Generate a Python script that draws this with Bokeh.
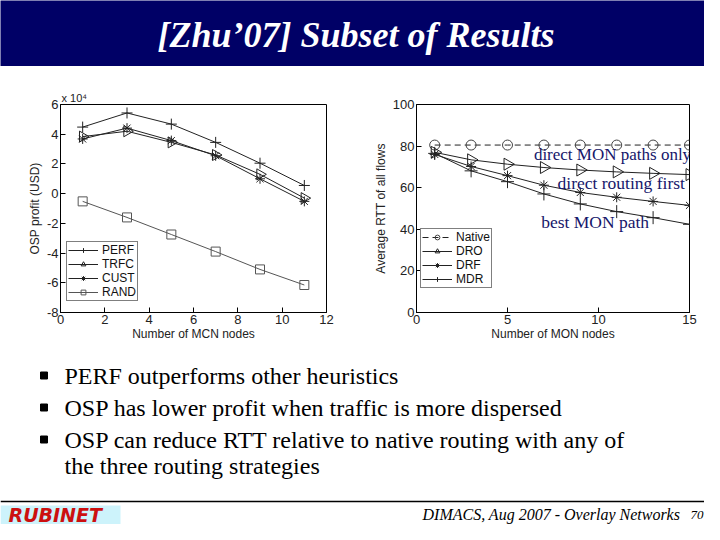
import numpy as np
from bokeh.plotting import figure
from bokeh.layouts import column, row
from bokeh.models import Range1d, FixedTicker, Label
from bokeh.core.properties import value
from bokeh.embed import file_html
from bokeh.resources import INLINE

# ---------------- data ----------------
title_text = "[Zhu\u201907] Subset of  Results"

mcn_nodes = [1, 3, 5, 7, 9, 11]
perf = [44800, 54300, 46800, 34500, 20500, 5500]
trfc = [38400, 42000, 34500, 26000, 13000, -3000]
cust = [36800, 44100, 35700, 25500, 10000, -5200]
rand = [-5200, -16000, -27500, -39000, -51000, -61500]
left_yticks = [-80000, -60000, -40000, -20000, 0, 20000, 40000, 60000]
left_ytick_labels = ["-8", "-6", "-4", "-2", "0", "2", "4", "6"]
left_xticks = [0, 2, 4, 6, 8, 10, 12]

mon_nodes = [1, 3, 5, 7, 9, 11, 13, 15]
native = [80.5, 80.5, 80.5, 80.5, 80.5, 80.5, 80.5, 80.5]
dro = [77.0, 73.4, 71.3, 69.7, 68.5, 67.6, 66.9, 66.3]
drf = [76.0, 70.2, 65.8, 61.2, 57.7, 55.4, 53.4, 51.5]
mdr = [76.5, 68.1, 62.9, 57.0, 52.2, 48.5, 45.6, 42.4]
right_yticks = [0, 20, 40, 60, 80, 100]
right_xticks = [0, 5, 10, 15]

bullets = [
    "PERF outperforms other heuristics",
    "OSP has lower profit when traffic is more dispersed",
    "OSP can reduce RTT relative to native routing with any of",
    "the three routing strategies",
]
footer_text = "DIMACS, Aug 2007 - Overlay Networks"
page_number = "70"
logo_text = "RUBINET"

SANS = "Liberation Sans"
SERIF = "Liberation Serif"
NAVY = "#000066"


def blank(p):
    p.axis.visible = False
    p.grid.visible = False
    p.outline_line_color = None
    p.background_fill_color = None
    p.border_fill_color = None


def style_chart(p, xlabel, ylabel):
    p.grid.visible = False
    p.outline_line_color = "black"
    p.outline_line_width = 1
    for ax in p.axis:
        ax.axis_line_color = "black"
        ax.major_tick_in = 5
        ax.major_tick_out = 0
        ax.minor_tick_line_color = None
        ax.major_label_text_font = SANS
        ax.major_label_text_font_size = "13px"
        ax.major_label_text_color = "#222222"
        ax.major_label_standoff = 2
        ax.axis_label_text_font = SANS
        ax.axis_label_text_font_size = "12px"
        ax.axis_label_text_font_style = "normal"
        ax.axis_label_text_color = "#222222"
        ax.axis_label_standoff = 2
    p.xaxis.axis_label = xlabel
    p.yaxis.axis_label = ylabel
    p.xaxis.axis_label_standoff = 0


def style_legend(p, loc):
    lg = p.legend[0]
    lg.location = loc
    lg.border_line_color = "black"
    lg.border_line_width = 1
    lg.background_fill_color = "white"
    lg.background_fill_alpha = 1
    lg.label_text_font = SANS
    lg.label_text_font_size = "12px"
    lg.label_text_color = "#111111"
    lg.glyph_width = 30
    lg.glyph_height = 12
    lg.label_height = 12
    lg.label_standoff = 4
    lg.spacing = 0
    lg.padding = 1
    lg.margin = 0


# ---------------- title bar ----------------
title = figure(width=704, height=66, x_range=Range1d(0, 704), y_range=Range1d(0, 66),
               output_backend="svg", toolbar_location=None, min_border=0)
blank(title)
title.background_fill_color = NAVY
title.border_fill_color = NAVY
title.text(x=[360], y=[32], text=[title_text], text_font=value(SERIF),
           text_font_style="bold italic", text_font_size="36px", text_color="white",
           text_align="center", text_baseline="middle")

# ---------------- left chart ----------------
left = figure(width=370, height=289, x_range=Range1d(0, 12), y_range=Range1d(-80000, 60000),
              output_backend="svg", toolbar_location=None,
              min_border_left=60, min_border_right=44, min_border_top=38, min_border_bottom=43)
style_chart(left, "Number of MCN nodes", "OSP profit (USD)")
left.xaxis.ticker = FixedTicker(ticks=left_xticks)
left.yaxis.ticker = FixedTicker(ticks=left_yticks)
left.yaxis.major_label_overrides = {t: s for t, s in zip(left_yticks, left_ytick_labels)}
left.title.text = "x 10\u2074"
left.title.align = "left"
left.title.text_font = SANS
left.title.text_font_size = "11px"
left.title.text_font_style = "normal"
left.title.text_color = "#222222"
left.title.standoff = 1
left.title.offset = 1

lc = "#222222"
left.line(mcn_nodes, perf, line_color=lc, line_width=1, legend_label="PERF")
left.scatter(mcn_nodes, perf, marker="cross", size=11, line_color=lc, fill_color=None, legend_label="PERF")
left.line(mcn_nodes, trfc, line_color=lc, line_width=1, legend_label="TRFC")
left.scatter(mcn_nodes, trfc, marker="triangle", angle=-np.pi / 2, size=11, line_color=lc,
             fill_color=None, legend_label="TRFC")
left.line(mcn_nodes, cust, line_color=lc, line_width=1, legend_label="CUST")
left.scatter(mcn_nodes, cust, marker="asterisk", size=10, line_color=lc, fill_color=None, legend_label="CUST")
left.line(mcn_nodes, rand, line_color="#555555", line_width=1, legend_label="RAND")
left.scatter(mcn_nodes, rand, marker="square", size=9, line_color="#555555", fill_color=None,
             legend_label="RAND")
style_legend(left, (6, 11))

# ---------------- right chart ----------------
right = figure(width=334, height=289, x_range=Range1d(0, 15), y_range=Range1d(0, 100),
               output_backend="svg", toolbar_location=None,
               min_border_left=42, min_border_right=15, min_border_top=34, min_border_bottom=37)
style_chart(right, "Number of MON nodes", "Average RTT of all flows")
right.xaxis.ticker = FixedTicker(ticks=right_xticks)
right.yaxis.ticker = FixedTicker(ticks=right_yticks)

right.line(mon_nodes, native, line_color=lc, line_dash="6 4", line_width=1, legend_label="Native")
right.scatter(mon_nodes, native, marker="circle", size=10, line_color="#444444", fill_color=None,
              legend_label="Native")
right.line(mon_nodes, dro, line_color=lc, line_width=1, legend_label="DRO")
right.scatter(mon_nodes, dro, marker="triangle", angle=-np.pi / 2, size=12, line_color=lc,
              fill_color=None, legend_label="DRO")
right.line(mon_nodes, drf, line_color=lc, line_width=1, legend_label="DRF")
right.scatter(mon_nodes, drf, marker="asterisk", size=10, line_color=lc, fill_color=None,
              legend_label="DRF")
right.line(mon_nodes, mdr, line_color=lc, line_width=1, legend_label="MDR")
right.scatter(mon_nodes, mdr, marker="cross", size=13, line_color=lc, fill_color=None,
              legend_label="MDR")
style_legend(right, (4, 24))

ann_color = "#16166a"
right.add_layout(Label(x=6.45, y=71.4, text="direct MON paths only", text_font=SERIF,
                       text_font_size="17px", text_color=ann_color))
right.add_layout(Label(x=7.75, y=57.4, text="direct routing first", text_font=SERIF,
                       text_font_size="17.5px", text_color=ann_color))
right.add_layout(Label(x=6.85, y=38.6, text="best MON path", text_font=SERIF,
                       text_font_size="17.5px", text_color=ann_color))

# ---------------- bullets + footer ----------------
bottom = figure(width=704, height=169, x_range=Range1d(0, 704), y_range=Range1d(169, 0),
                output_backend="svg", toolbar_location=None, min_border=0)
blank(bottom)
bottom.scatter(x=[43.5, 43.5, 43.5], y=[20, 52, 84], marker="square", size=7, color="black")
bottom.text(x=[64, 64, 64, 64], y=[20, 52, 84, 110], text=bullets, text_font=value(SERIF),
            text_font_size="24px", text_color="black", text_baseline="middle")
bottom.segment(x0=[0], y0=[146], x1=[704], y1=[146], line_color="black", line_width=1.5)
bottom.quad(left=[0], right=[120], top=[150], bottom=[169], fill_color="#cdf3fb", line_color=None)
bottom.text(x=[8], y=[159], text=[logo_text], text_font=value("DejaVu Sans"),
            text_font_style="bold italic", text_font_size="19px", text_color="#cc1010",
            text_baseline="middle")
bottom.text(x=[422], y=[159], text=[footer_text], text_font=value(SERIF), text_font_style="italic",
            text_font_size="16px", text_color="black", text_baseline="middle")
bottom.text(x=[690], y=[159], text=[page_number], text_font=value(SERIF), text_font_style="italic",
            text_font_size="13px", text_color="black", text_baseline="middle")

layout = column(title, row(left, right), bottom)
open("out.html", "w").write(file_html(layout, INLINE))
